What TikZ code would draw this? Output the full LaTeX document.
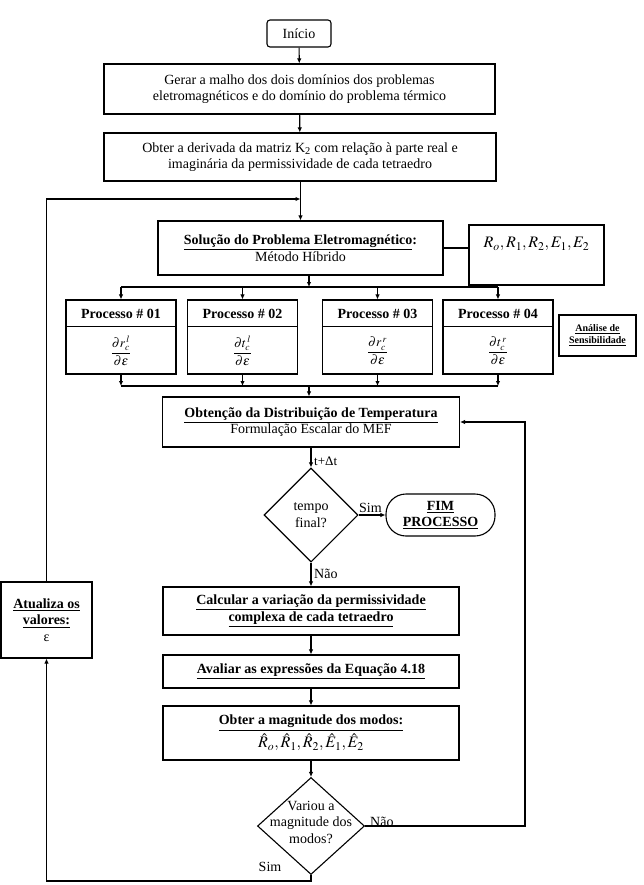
\documentclass[tikz,border=0pt]{standalone}
\usepackage{mathptmx}
\usepackage{fontspec}
\setmainfont{Liberation Serif}
\usetikzlibrary{shapes.geometric,arrows.meta}
\begin{document}
\begin{tikzpicture}[x=1pt,y=-1pt,
  every node/.style={font=\fontsize{14}{16.5}\selectfont},
  box/.style={draw, line width=1.1pt, inner sep=0pt, align=center},
  dia/.style={draw, diamond, line width=1.1pt, inner sep=0pt, align=center},
  ln/.style={line width=1.1pt},
  arr/.style={line width=1.1pt, -{Latex[length=5pt,width=4.5pt]}},
  phead/.style={font=\bfseries\fontsize{14}{16}\selectfont},
  pfrac/.style={font=\fontsize{13}{15}\selectfont},
  lbl/.style={inner sep=1pt},
  ]
\useasboundingbox (0,0) rectangle (643,885);

% top column
\node[box, rounded corners=3pt, minimum width=64pt, minimum height=27pt] (ini) at (299,33.5) {Início};
\node[box, minimum width=391pt, minimum height=50pt] (g) at (299.5,89) {Gerar a malho dos dois domínios dos problemas\\eletromagnéticos e do domínio do problema térmico};
\node[box, minimum width=392pt, minimum height=48pt] (d) at (300,157) {Obter a derivada da matriz K\textsubscript{2} com relação à parte real e\\imaginária da permissividade de cada tetraedro};
\node[box, minimum width=285pt, minimum height=54pt] (sol) at (300.5,248) {\textbf{\underline{Solução do Problema Eletromagnético}:}\\Método Híbrido};
\node[box, minimum width=135pt, minimum height=60pt] (rb) at (536.5,255) {};
\node[font=\fontsize{16}{18}\selectfont] (rt) at (536.5,244) {$R_o,R_1,R_2,E_1,E_2$};

% processes
\node[box, minimum width=110pt, minimum height=74pt] (p1) at (121,337) {};
\node[box, minimum width=110pt, minimum height=74pt] (p2) at (242.5,337) {};
\node[box, minimum width=110pt, minimum height=74pt] (p3) at (377.5,337) {};
\node[box, minimum width=110pt, minimum height=74pt] (p4) at (498,337) {};
\foreach \p in {p1,p2,p3,p4}{
  \draw[ln] ([yshift=-27pt]\p.north west) -- ([yshift=-27pt]\p.north east);
}
\node[phead] (h1) at (121,313.5) {Processo \# 01};
\node[phead] (h2) at (242.5,313.5) {Processo \# 02};
\node[phead] (h3) at (377.5,313.5) {Processo \# 03};
\node[phead] (h4) at (498,313.5) {Processo \# 04};
\node[pfrac] (f1) at (121,351) {$\displaystyle\frac{\partial r_c^{\,l}}{\partial\varepsilon}$};
\node[pfrac] (f2) at (242.5,351) {$\displaystyle\frac{\partial t_c^{\,l}}{\partial\varepsilon}$};
\node[pfrac] (f3) at (377.5,351) {$\displaystyle\frac{\partial r_c^{\,r}}{\partial\varepsilon}$};
\node[pfrac] (f4) at (498,351) {$\displaystyle\frac{\partial t_c^{\,r}}{\partial\varepsilon}$};
\node[box, minimum width=77pt, minimum height=41pt, font=\bfseries\fontsize{10}{12}\selectfont] (an) at (597.5,335.5) {\underline{Análise de}\\\underline{Sensibilidade}};

% lower column
\node[box, minimum width=297pt, minimum height=50pt] (obt) at (311,422) {\textbf{\underline{Obtenção da Distribuição de Temperatura}}\\Formulação Escalar do MEF};
\node[dia, minimum width=94pt, minimum height=94pt] (tf) at (311,515) {tempo\\final?};
\node[box, rounded corners=20pt, minimum width=109pt, minimum height=42pt, font=\bfseries\fontsize{14}{16}\selectfont] (fim) at (440.5,515) {\underline{FIM}\\\underline{PROCESSO}};
\node[box, minimum width=296pt, minimum height=48pt, font=\bfseries\fontsize{14}{16.5}\selectfont] (calc) at (311,611) {\underline{Calcular a variação da permissividade}\\\underline{complexa de cada tetraedro}};
\node[box, minimum width=296pt, minimum height=33pt, font=\bfseries\fontsize{14}{16.5}\selectfont] (aval) at (311,671.5) {\underline{Avaliar as expressões da Equação 4.18}};
\node[box, minimum width=296pt, minimum height=54pt] (obm) at (311,733) {\textbf{\underline{Obter a magnitude dos modos:}}\\[2pt]{\fontsize{16}{18}\selectfont$\hat{R}_o,\hat{R}_1,\hat{R}_2,\hat{E}_1,\hat{E}_2$}};
\node[dia, minimum width=107pt, minimum height=97pt] (va) at (311,826) {};
\node[align=center, inner sep=0pt] (vat) at (311,822) {Variou a\\magnitude dos\\modos?};
\node[box, minimum width=91pt, minimum height=76pt] (at) at (46.5,620) {\textbf{\underline{Atualiza os}}\\\textbf{\underline{valores:}}\\ε};

% labels
\node[lbl, anchor=west, font=\fontsize{13}{15}\selectfont] (ldt) at (313,461) {t+Δt};
\node[lbl, anchor=south west] (lsim1) at (358,514) {Sim};
\node[lbl, anchor=west] (lnao1) at (313,574) {Não};
\node[lbl, anchor=west] (lnao2) at (369,822) {Não};
\node[lbl] (lsim2) at (270,867) {Sim};

% connectors
\coordinate (lp) at (300.5,199);
\coordinate (s0) at (309,287);
\coordinate (j0) at (309,386);
\coordinate (rr) at (525,422);
\coordinate (bl) at (46.5,881);

\draw[arr] (ini) -- (g);
\draw[arr] (g) -- (d);
\draw[arr] (d.south -| lp) -- (sol.north -| lp);
\draw[arr] (at.north) |- (lp);
\draw[ln] (sol.east) -- (rb.west |- sol.east);
\draw[arr] (sol.south -| s0) -- (s0);
\draw[ln] (p1.north |- s0) -- (p4.north |- s0);
\foreach \p in {p1,p2,p3,p4}{
  \draw[arr] (\p.north |- s0) -- (\p.north);
  \draw[arr] (\p.south) -- (\p.south |- j0);
}
\draw[ln] (p1.south |- j0) -- (p4.south |- j0);
\draw[arr] (j0) -- (j0 |- obt.north);
\draw[arr] (obt) -- (tf);
\draw[arr] (tf) -- (fim);
\draw[arr] (tf) -- (calc);
\draw[arr] (calc) -- (aval);
\draw[arr] (aval) -- (obm);
\draw[arr] (obm) -- (va);
\draw[arr] (va.east) -| (rr) -- (obt.east);
\draw[arr] (va.south) |- (bl) -- (at.south);
\end{tikzpicture}
\end{document}
